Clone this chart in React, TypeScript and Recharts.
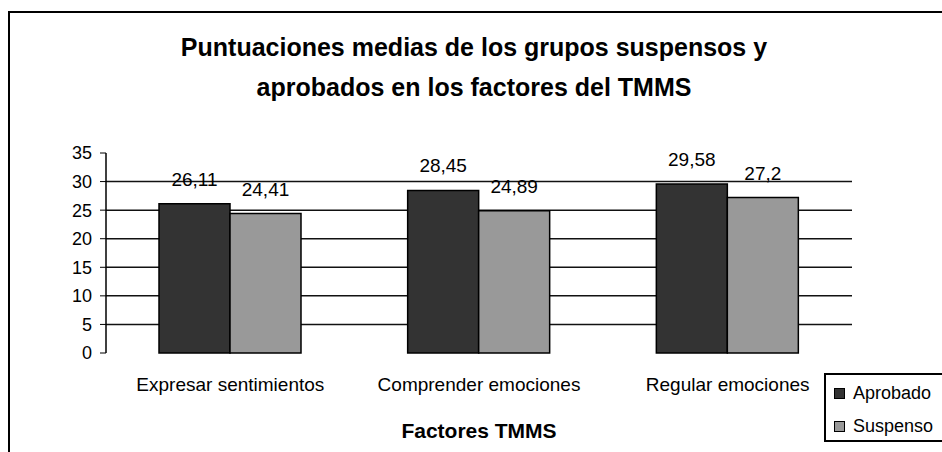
import React from 'react';
import { BarChart, Bar, XAxis, YAxis, CartesianGrid, LabelList } from 'recharts';

const categories = ['Expresar sentimientos', 'Comprender emociones', 'Regular emociones'];
const aprobado = [26.11, 28.45, 29.58];
const suspenso = [24.41, 24.89, 27.2];
const yTicks = [0, 5, 10, 15, 20, 25, 30, 35];
const gridValues = [5, 10, 15, 20, 25, 30];
const boundaryTicks = [0, 1, 2, 3];
const seriesNames = ['Aprobado', 'Suspenso'];
const seriesColors = ['#333333', '#999999'];

const data = categories.map((c, i) => ({ name: c, idx: i + 0.5, Aprobado: aprobado[i], Suspenso: suspenso[i] }));

const FONT = '"Liberation Sans", Arial, sans-serif';
const fmt = (v: any) => String(v).replace('.', ',');

const LegendBox = () => (
  <div
    style={{
      position: 'absolute',
      left: 824,
      top: 373,
      border: '2px solid #000',
      width: 130,
      height: 69,
      boxSizing: 'border-box',
      fontFamily: FONT,
      fontSize: 18,
      color: '#000',
      paddingLeft: 8,
      paddingTop: 6,
    }}
  >
    {seriesNames.map((n, i) => (
      <div key={n} style={{ display: 'flex', alignItems: 'center', height: 24, marginBottom: i === 0 ? 9 : 0 }}>
        <span style={{ display: 'inline-block', width: 9, height: 9, background: seriesColors[i], border: '1px solid #000', marginRight: 8 }} />
        <span>{n}</span>
      </div>
    ))}
  </div>
);

export default function App() {
  return (
    <div style={{ position: 'absolute', left: 0, top: 0, width: 942, height: 452, background: '#fff', overflow: 'hidden' }}>
      <div style={{ position: 'absolute', left: 8, top: 11, width: 960, height: 460, border: '2px solid #000', boxSizing: 'border-box' }} />
      <div style={{ position: 'absolute', left: 0, top: 27, width: 948, textAlign: 'center', fontFamily: FONT, fontWeight: 'bold', fontSize: 25, lineHeight: '40px', color: '#000' }}>
        Puntuaciones medias de los grupos suspensos y<br />aprobados en los factores del TMMS
      </div>
      <div style={{ position: 'absolute', left: 106, top: 419, width: 746, textAlign: 'center', fontFamily: FONT, fontWeight: 'bold', fontSize: 21, color: '#000' }}>
        Factores TMMS
      </div>
      <div style={{ position: 'absolute', left: 0, top: 0 }}>
        <BarChart
          width={942}
          height={452}
          data={data}
          margin={{ top: 153, right: 90, bottom: 0, left: 0 }}
          barCategoryGap={53}
          barGap={0}
        >
          <CartesianGrid
            horizontal
            vertical={false}
            yAxisId="left"
            xAxisId="cat"
            horizontalValues={gridValues}
            stroke="#111"
            strokeWidth={1.5}
          />
          <XAxis
            xAxisId="num"
            type="number"
            dataKey="idx"
            domain={[0, 3]}
            ticks={boundaryTicks}
            height={0}
            tickSize={6}
            tickFormatter={() => ''}
            axisLine={{ stroke: '#000', strokeWidth: 1.5 }}
            tickLine={{ stroke: '#000', strokeWidth: 1.5 }}
          />
          <XAxis
            xAxisId="cat"
            dataKey="name"
            height={99}
            tickSize={0}
            tickMargin={25}
            axisLine={false}
            tickLine={false}
            tick={{ fill: '#000', fontSize: 19, fontFamily: FONT }}
            interval={0}
          />
          <XAxis xAxisId="top" orientation="top" height={0} tick={false} tickLine={false} axisLine={{ stroke: '#999', strokeWidth: 2 }} />
          <YAxis
            yAxisId="left"
            domain={[0, 35]}
            ticks={yTicks}
            width={106}
            tickSize={6}
            tickMargin={8}
            interval={0}
            axisLine={{ stroke: '#000', strokeWidth: 1.5 }}
            tickLine={{ stroke: '#000' }}
            tick={{ fill: '#000', fontSize: 18, fontFamily: FONT }}
          />
          <YAxis yAxisId="right" orientation="right" domain={[0, 35]} width={0} tick={false} tickLine={false} axisLine={{ stroke: '#999', strokeWidth: 2 }} />
          <Bar xAxisId="cat" yAxisId="left" dataKey="Aprobado" fill={seriesColors[0]} stroke="#000" strokeWidth={1.5} isAnimationActive={false}>
            <LabelList dataKey="Aprobado" position="top" offset={18} formatter={fmt} fill="#000" fontSize={19} fontFamily={FONT} />
          </Bar>
          <Bar xAxisId="cat" yAxisId="left" dataKey="Suspenso" fill={seriesColors[1]} stroke="#000" strokeWidth={1.5} isAnimationActive={false}>
            <LabelList dataKey="Suspenso" position="top" offset={18} formatter={fmt} fill="#000" fontSize={19} fontFamily={FONT} />
          </Bar>
        </BarChart>
      </div>
      <LegendBox />
    </div>
  );
}
